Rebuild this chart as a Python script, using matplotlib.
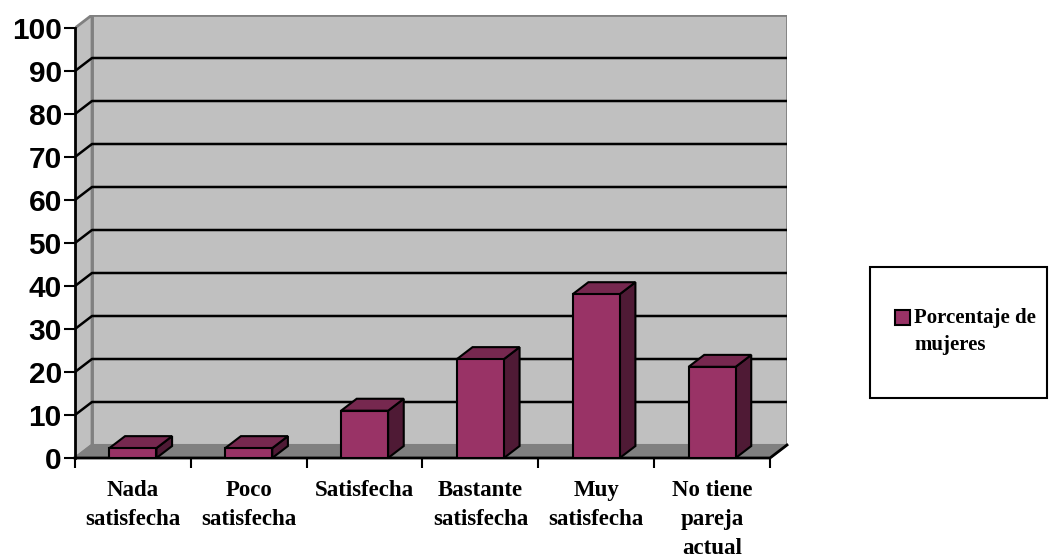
import matplotlib
matplotlib.use("Agg")
import matplotlib.pyplot as plt
from matplotlib.patches import Polygon, Rectangle

categories = ["Nada\nsatisfecha", "Poco\nsatisfecha", "Satisfecha",
              "Bastante\nsatisfecha", "Muy\nsatisfecha", "No tiene\npareja\nactual"]
values = [2.3, 2.3, 11.0, 23.0, 38.1, 21.2]
yticks = list(range(0, 101, 10))
series_name = "Porcentaje de\nmujeres"

W, H = 1049, 559
fig = plt.figure(figsize=(W / 100, H / 100), dpi=100)
fig.patch.set_facecolor("white")

n = len(categories)
DX = 17 / 115.83
DY = 13 / 4.3
ymax = 100

left, right, bottom, top = 75, 787, 458, 15
ax = fig.add_axes([left / W, (H - bottom) / H, (right - left) / W, (bottom - top) / H])
ax.set_xlim(0, n + DX)
ax.set_ylim(0, ymax + DY)
ax.set_facecolor("none")
for s in ax.spines.values():
    s.set_visible(False)

wall = "#C0C0C0"
floor = "#808080"
edge_gray = "#808080"

# back wall
ax.add_patch(Polygon([(DX, DY), (n + DX, DY), (n + DX, ymax + DY), (DX, ymax + DY)],
                     closed=True, facecolor=wall, edgecolor=edge_gray, lw=2, zorder=1))
# left wall
ax.add_patch(Polygon([(0, 0), (DX, DY), (DX, ymax + DY), (0, ymax)],
                     closed=True, facecolor=wall, edgecolor=edge_gray, lw=2, zorder=1))
# floor
ax.add_patch(Polygon([(0, 0), (n, 0), (n + DX, DY), (DX, DY)],
                     closed=True, facecolor=floor, edgecolor=edge_gray, lw=1.5, zorder=1))

# gridlines
for v in yticks[1:-1]:
    ax.plot([0, DX, n + DX], [v, v + DY, v + DY], color="black", lw=1.8, zorder=2,
            solid_capstyle="butt")

# front axis lines
ax.plot([0, 0], [0, ymax], color="black", lw=2, zorder=5, clip_on=False)
ax.plot([0, n, n + DX], [0, 0, DY], color="black", lw=2, zorder=5, clip_on=False)

# bars
bw = 0.406
front_c = "#993366"
top_c = "#76284F"
side_c = "#4F1A35"
bd = 0.92
for i, v in enumerate(values):
    x0 = i + 0.5 - bw / 2
    x1 = i + 0.5 + bw / 2
    dx, dy = DX * bd, DY * bd
    ax.add_patch(Polygon([(x1, 0), (x1 + dx, dy), (x1 + dx, v + dy), (x1, v)],
                         closed=True, facecolor=side_c, edgecolor="black", lw=1.5, zorder=6))
    ax.add_patch(Polygon([(x0, v), (x1, v), (x1 + dx, v + dy), (x0 + dx, v + dy)],
                         closed=True, facecolor=top_c, edgecolor="black", lw=1.5, zorder=6))
    ax.add_patch(Rectangle((x0, 0), bw, v, facecolor=front_c, edgecolor="black", lw=1.5, zorder=7))

# y ticks
ax.set_yticks(yticks)
ax.set_yticklabels([str(t) for t in yticks], fontfamily="Liberation Sans",
                   fontweight="bold", fontsize=21.5)
ax.tick_params(axis="y", length=8, width=1.5, pad=1.5, color="black")

# x ticks
ax.set_xticks(range(n + 1))
ax.set_xticklabels([""] * (n + 1))
ax.tick_params(axis="x", which="major", length=7.5, width=1.5, color="black")
ax.set_xticks([i + 0.5 for i in range(n)], minor=True)
ax.set_xticklabels(categories, minor=True, fontfamily="Liberation Serif",
                   fontweight="bold", fontsize=16.5, linespacing=1.5)
ax.tick_params(axis="x", which="minor", length=0, pad=16)

# legend box
fig.patches.append(Rectangle((870 / W, (H - 398) / H), (1047 - 870) / W, (398 - 267) / H,
                             transform=fig.transFigure, facecolor="white",
                             edgecolor="black", lw=1.5))
fig.patches.append(Rectangle((895 / W, (H - 325) / H), 15 / W, 15 / H,
                             transform=fig.transFigure, facecolor=front_c,
                             edgecolor="black", lw=1.5))
fig.text(914 / W, (H - 308) / H, series_name, ha="left", va="top",
         fontfamily="Liberation Serif", fontweight="bold", fontsize=15, linespacing=1.45)

fig.savefig("out.png", dpi=100)
